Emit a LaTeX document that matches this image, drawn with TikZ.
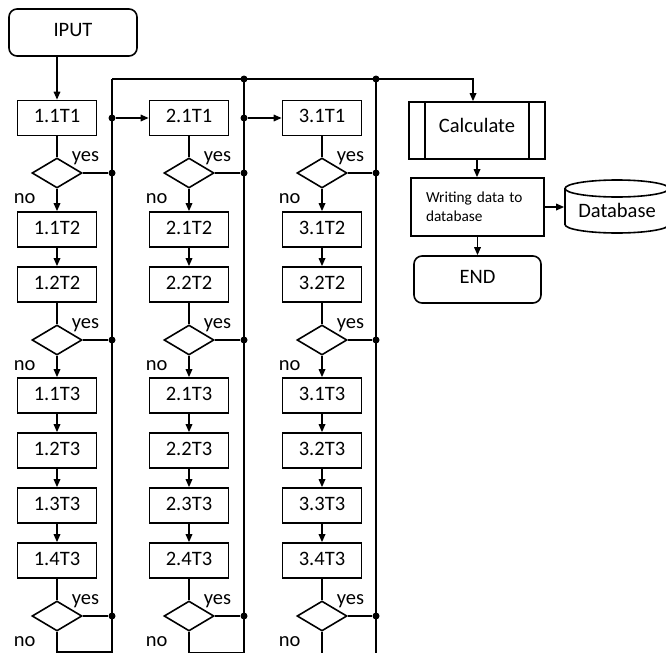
\documentclass[tikz,border=0pt]{standalone}
\usepackage{fontspec}
\setmainfont{Carlito}
\usetikzlibrary{shapes.geometric,arrows.meta,calc}

\begin{document}
\begin{tikzpicture}[x=1pt,y=-1pt,
  line width=1.6pt,
  every node/.style={font=\fontsize{20.5}{24}\selectfont},
  task/.style={draw, minimum width=79pt, minimum height=35pt, inner sep=0pt,
    text height=13.2pt, text depth=4pt},
  test/.style={draw, diamond, minimum width=50pt, minimum height=30pt, inner sep=0pt},
  terminal/.style={draw, rounded corners=8pt, minimum height=47pt, inner sep=0pt,
    text height=13.2pt, text depth=6pt},
  flow/.style={-{Triangle[length=8pt,width=6.5pt]}},
  junction/.style={circle, fill, inner sep=0pt, minimum size=7pt},
  yeslbl/.style={inner sep=0pt, anchor=base west},
]
\useasboundingbox (0,0) rectangle (666,653);
\clip (0,0) rectangle (666,653);

% start
\node[terminal, minimum width=128pt] (iput) at (73,32.5) {IPUT};

% the three task columns
\foreach \col/\x/\b in {1/57/112, 2/189/244, 3/322/376} {
  \node[task] (c\col t1)  at (\x,118)   {\col.1T1};
  \node[test] (c\col d1)  at (\x,173)   {};
  \node[task] (c\col t2a) at (\x,229.5) {\col.1T2};
  \node[task] (c\col t2b) at (\x,284.5) {\col.2T2};
  \node[test] (c\col d2)  at (\x,340)   {};
  \node[task] (c\col t3a) at (\x,395.5) {\col.1T3};
  \node[task] (c\col t3b) at (\x,450.5) {\col.2T3};
  \node[task] (c\col t3c) at (\x,505.5) {\col.3T3};
  \node[task] (c\col t3d) at (\x,560.5) {\col.4T3};
  \node[test] (c\col d4)  at (\x,616)   {};

  \draw (c\col t1) -- (c\col d1);
  \draw[flow] (c\col d1) -- (c\col t2a);
  \draw[flow] (c\col t2a) -- (c\col t2b);
  \draw (c\col t2b) -- (c\col d2);
  \draw[flow] (c\col d2) -- (c\col t3a);
  \draw[flow] (c\col t3a) -- (c\col t3b);
  \draw[flow] (c\col t3b) -- (c\col t3c);
  \draw[flow] (c\col t3c) -- (c\col t3d);
  \draw (c\col t3d) -- (c\col d4);

  % bus to the right of the column
  \coordinate (bus\col top) at (\b,79);
  \coordinate (bus\col bot) at (\b,653);
  \draw (bus\col top) -- (bus\col bot);

  \foreach \d in {d1,d2,d4} {
    \node[junction] (j\col\d) at (c\col\d.east -| bus\col top) {};
    \draw (c\col\d.east) -- (j\col\d);
    \node[yeslbl] (yes\col\d) at ($(c\col\d.center)+(14,-12)$) {yes};
    \node[yeslbl] (no\col\d)  at ($(c\col\d.center)+(-44,30)$) {no};
  }
}

% "no" exits at the foot of the columns
\coordinate (foot1) at (57,652);
\coordinate (foot2) at (189,652.5);
\coordinate (foot3) at (322,653);
\draw (c1d4.south) -- (foot1) -- (foot1 -| bus1top);
\draw (c2d4.south) -- (foot2) -- (foot2 -| bus2top);
\draw (c3d4.south) -- (foot3);

% junctions at the top of buses 2 and 3
\node[junction] (j2top) at (bus2top) {};
\node[junction] (j3top) at (bus3top) {};

% branches into the next column
\node[junction] (j1b) at (c1t1.east -| bus1top) {};
\node[junction] (j2b) at (c2t1.east -| bus2top) {};
\draw[flow] (j1b) -- (c2t1.west);
\draw[flow] (j2b) -- (c3t1.west);

\draw[flow] (iput.south -| c1t1.north) -- (c1t1.north);

% result branch
\node[draw, minimum width=136pt, minimum height=57pt, inner sep=0pt,
  text height=13.2pt, text depth=10pt] (calc) at (477,130.5) {Calculate};
\draw ([xshift=17pt]calc.north west) -- ([xshift=17pt]calc.south west);
\draw ([xshift=-17pt]calc.north east) -- ([xshift=-17pt]calc.south east);

\coordinate (calcin) at ($(calc.north)+(-4,0)$);
\draw[flow] (bus1top) -| (calcin);

\node[draw, text width=103pt, inner xsep=15pt, inner ysep=0pt, minimum height=58pt,
  align=left, font=\fontsize{15.3}{19}\selectfont] (write) at (477.5,207) {Writing data to\\database};
\draw[flow] (calc.south) -- (calc.south |- write.north);

\node[terminal, minimum width=127pt] (end) at (477.5,279.5) {END};
\draw[flow] (write.south) -- (write.south |- end.north);

% database cylinder
\draw (565,188.5) -- (565,224.5)
  arc[start angle=180, end angle=360, x radius=52pt, y radius=8.5pt] -- (669,188.5);
\draw (617,188.5) ellipse[x radius=52pt, y radius=8.5pt];
\node[inner sep=0pt, minimum width=104pt] (db) at (617,210) {Database};
\draw[flow] (write.east) -- (write.east -| db.west);
\end{tikzpicture}
\end{document}
